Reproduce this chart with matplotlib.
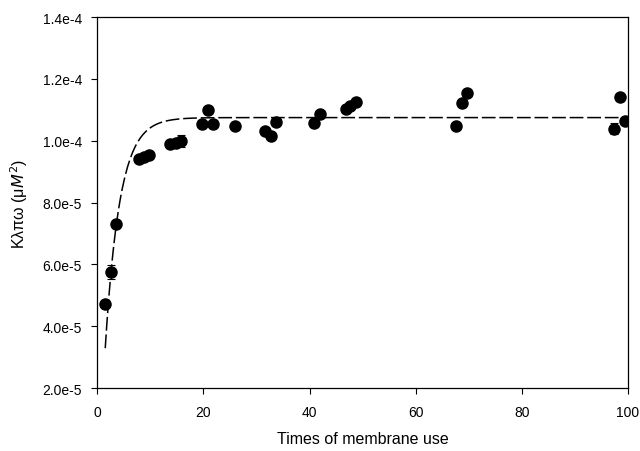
import matplotlib
matplotlib.use("Agg")
import matplotlib.pyplot as plt
import numpy as np

plt.rcParams['font.family'] = ['Liberation Sans', 'DejaVu Sans']

# measured points (times of use, K value)
uses = [1.4, 2.5, 3.6, 7.8, 8.8, 9.7, 13.8, 14.8, 15.7, 19.8, 20.8, 21.8,
        25.9, 31.7, 32.8, 33.7, 40.8, 41.9, 46.8, 47.7, 48.8, 67.6, 68.7,
        69.7, 97.4, 98.5, 99.5]
k_vals = [4.72e-5, 5.76e-5, 7.31e-5, 9.41e-5, 9.46e-5, 9.55e-5, 9.91e-5,
          9.93e-5, 10.0e-5, 10.53e-5, 10.98e-5, 10.53e-5, 10.48e-5, 10.31e-5,
          10.16e-5, 10.6e-5, 10.58e-5, 10.88e-5, 11.03e-5, 11.14e-5, 11.25e-5,
          10.49e-5, 11.21e-5, 11.55e-5, 10.39e-5, 11.42e-5, 10.63e-5]
k_err = [0.0, 0.22e-5, 0.0, 0.0, 0.0, 0.12e-5, 0.1e-5, 0.1e-5, 0.2e-5, 0.0,
         0.0, 0.0, 0.0, 0.0, 0.0, 0.12e-5, 0.0, 0.0, 0.0, 0.0, 0.0, 0.0, 0.0,
         0.0, 0.18e-5, 0.0, 0.0]

# fitted curve parameters: y = a - b*exp(-k*x)
fit_a = 10.75e-5
fit_b = 12.93e-5
fit_k = 0.367

fig = plt.figure(figsize=(6.4, 4.52), dpi=100)
ax = fig.add_axes([0.152, 0.139, 0.829, 0.821])

xf = np.linspace(1.5, 100, 400)
ax.plot(xf, fit_a - fit_b * np.exp(-fit_k * xf), color='black', lw=1.1,
        dashes=(9, 2.5))

ax.errorbar(uses, k_vals, yerr=k_err, fmt='o', color='black', ms=8,
            ecolor='black', elinewidth=0.8, capsize=3, capthick=0.8)

ax.set_xlim(0, 100)
ax.set_ylim(2.0e-5, 1.4e-4)
ax.set_xticks([0, 20, 40, 60, 80, 100])
yt = [2.0e-5, 4.0e-5, 6.0e-5, 8.0e-5, 1.0e-4, 1.2e-4, 1.4e-4]
ax.set_yticks(yt)
ax.set_yticklabels(['2.0e-5', '4.0e-5', '6.0e-5', '8.0e-5', '1.0e-4',
                    '1.2e-4', '1.4e-4'])
ax.tick_params(direction='out', length=4, width=0.8, labelsize=10)
ax.tick_params(axis='x', pad=8)
ax.tick_params(axis='y', pad=7)
for s in ax.spines.values():
    s.set_linewidth(0.9)

ax.set_xlabel('Times of membrane use', fontsize=11.5, labelpad=9)
ax.set_ylabel('K\u03bb\u03c0\u03c9 (\u03bc$\\mathit{M}^2$)', fontsize=11.5,
              labelpad=9)

fig.savefig('out.png', dpi=100)
